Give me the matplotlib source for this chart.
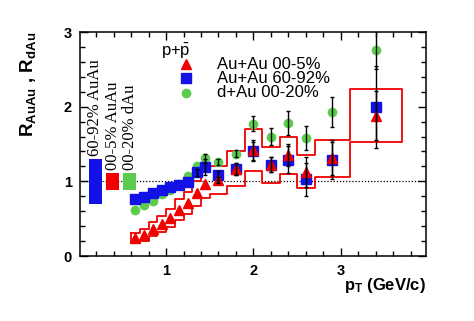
import numpy as np
import matplotlib
matplotlib.use("Agg")
import matplotlib.pyplot as plt
from matplotlib.ticker import MultipleLocator

plt.rcParams["font.family"] = ["Liberation Sans", "DejaVu Sans"]
plt.rcParams["mathtext.fontset"] = "custom"
plt.rcParams["mathtext.rm"] = "Liberation Sans"
plt.rcParams["mathtext.bf"] = "Liberation Sans:bold"
plt.rcParams["mathtext.it"] = "Liberation Sans:italic"

# p+pbar nuclear modification factors vs pT
pt = [0.65, 0.75, 0.85, 0.95, 1.05, 1.15, 1.25, 1.35, 1.45, 1.6, 1.8, 2.0, 2.2, 2.4, 2.6, 2.9, 3.4]
half_bin = [0.05, 0.05, 0.05, 0.05, 0.05, 0.05, 0.05, 0.05, 0.05,
            0.1, 0.1, 0.1, 0.1, 0.1, 0.1, 0.2, 0.3]

r_central = [0.24, 0.28, 0.36, 0.43, 0.51, 0.62, 0.71, 0.84, 0.96, 1.02, 1.17, 1.42, 1.22, 1.35, 1.13, 1.31, 1.88]
err_central = [0, 0, 0, 0, 0, 0, 0, 0, 0, 0.04, 0.08, 0.13, 0.10, 0.15, 0.20, 0.22, 0.33]
sys_central = [0.065, 0.075, 0.09, 0.11, 0.12, 0.14, 0.15, 0.17, 0.18, 0.19, 0.23, 0.28, 0.24, 0.25, 0.22, 0.25, 0.35]

r_periph = [0.76, 0.79, 0.84, 0.89, 0.92, 0.95, 0.99, 1.12, 1.19, 1.08, 1.16, 1.40, 1.22, 1.29, 1.03, 1.29, 2.00]
err_periph = [0, 0, 0, 0, 0, 0, 0, 0.05, 0.11, 0.06, 0.08, 0.13, 0.10, 0.18, 0.22, 0.26, 0.55]

r_dau = [0.62, 0.68, 0.74, 0.83, 0.89, 0.96, 1.07, 1.20, 1.31, 1.26, 1.37, 1.77, 1.60, 1.78, 1.58, 1.93, 2.76]
err_dau = [0, 0, 0, 0, 0, 0, 0, 0, 0.06, 0.04, 0.05, 0.10, 0.12, 0.16, 0.16, 0.20, 0.25]

# normalisation uncertainties around unity
norm_x = [0.19, 0.39, 0.585]
norm_err = [0.30, 0.11, 0.11]
norm_labels = ["60-92% AuAu", "00-5% AuAu", "00-20% dAu"]

RED = "#f20000"
BLUE = "#1212e6"
GREEN = "#5ccc4e"

fig = plt.figure(figsize=(4.74, 3.21), dpi=100)
ax = fig.add_axes([80 / 474, 1 - 256 / 321, 346 / 474, 224 / 321])

ax.axhline(1, color="black", ls=(0, (1, 1.5)), lw=0.9, zorder=1)

# systematic band for central Au+Au drawn as one stepped outline
lo = np.array(pt) - np.array(half_bin)
hi = np.array(pt) + np.array(half_bin)
top = np.array(r_central) + np.array(sys_central)
bot = np.array(r_central) - np.array(sys_central)
xs, ys = [], []
for a, b, t in zip(lo, hi, top):
    xs += [a, b]
    ys += [t, t]
for a, b, t in zip(lo[::-1], hi[::-1], bot[::-1]):
    xs += [b, a]
    ys += [t, t]
xs.append(xs[0])
ys.append(ys[0])
ax.plot(xs, ys, color=RED, lw=1.3, zorder=2)

# normalisation boxes
ax.bar(norm_x, [2 * e for e in norm_err], bottom=[1 - e for e in norm_err],
       width=0.15, color=[BLUE, RED, GREEN], zorder=3)
for x, e, lab in zip(norm_x, norm_err, norm_labels):
    ax.text(x, 1 + e + 0.04, lab, rotation=90, ha="center", va="bottom",
            family="Liberation Serif", fontsize=12, zorder=3)

ax.plot(pt, r_dau, "o", color=GREEN, ms=6.0, mec=GREEN, zorder=4)
ax.plot(pt, r_periph, "s", color=BLUE, ms=6.5, mec=BLUE, zorder=4)
ax.plot(pt, r_central, "^", color=RED, ms=7.2, mec=RED, zorder=4)

# statistical errors, only where they stick out of the markers
for r, e in [(r_dau, err_dau), (r_periph, err_periph), (r_central, err_central)]:
    keep = [i for i in range(len(pt)) if e[i] > 0]
    ax.errorbar([pt[i] for i in keep], [r[i] for i in keep], yerr=[e[i] for i in keep],
                fmt="none", ecolor="black", elinewidth=1.0,
                capsize=1.6, capthick=1.0, zorder=5)

# legend
ax.text(0.234, 0.915, r"p+$\bar{\mathrm{p}}$", transform=ax.transAxes,
        fontsize=12, ha="left", va="center")
entries = [("^", RED, 7.2, "Au+Au 00-5%"),
           ("s", BLUE, 6.5, "Au+Au 60-92%"),
           ("o", GREEN, 6.0, "d+Au 00-20%")]
for i, (m, c, s, lab) in enumerate(entries):
    yy = 0.857 - i * 0.064
    ax.plot([0.3064], [yy], m, color=c, mec=c, ms=s, transform=ax.transAxes,
            clip_on=False)
    ax.text(0.395, yy, lab, transform=ax.transAxes, fontsize=12,
            ha="left", va="center")

ax.set_xlim(0.015, 3.975)
ax.set_ylim(0, 3)
ax.set_xticks([1, 2, 3])
ax.set_xticklabels(["1", "2", "3"], fontweight="bold", fontsize=10.5)
ax.set_yticks([0, 1, 2, 3])
ax.set_yticklabels(["0", "1", "2", "3"], fontweight="bold", fontsize=10.5)
ax.xaxis.set_minor_locator(MultipleLocator(0.2))
ax.yaxis.set_minor_locator(MultipleLocator(0.2))
ax.tick_params(which="both", direction="in", top=True, right=True, width=1)
ax.tick_params(which="major", length=6, pad=6)
ax.tick_params(which="minor", length=3.5)
for sp in ax.spines.values():
    sp.set_linewidth(1.1)

ax.set_xlabel(r"$\mathbf{p_{T}}$ (GeV/c)", fontsize=12, fontweight="bold", loc="right")
ax.xaxis.set_label_coords(1.0, -0.09)
fig.text(28 / 474, 1 - 32 / 321, r"$\mathbf{R_{AuAu}}$ , $\mathbf{R_{dAu}}$",
         rotation=90, ha="center", va="top", fontsize=13.5, fontweight="bold")

fig.savefig("out.png", dpi=100)
